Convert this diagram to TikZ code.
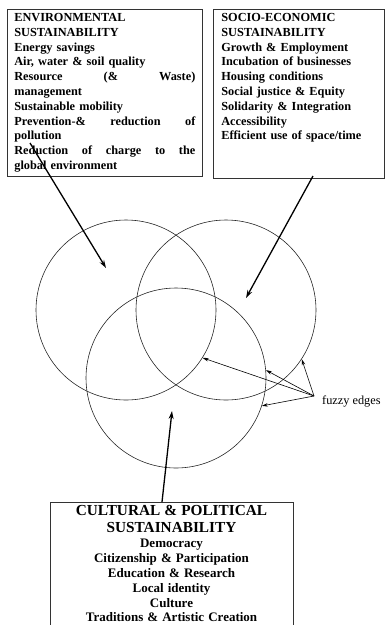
\documentclass[tikz,border=0pt]{standalone}
\usepackage{fontspec}
\setmainfont{Liberation Serif}
\usepackage{tikz}
\usetikzlibrary{arrows.meta}

\newcommand{\jline}[1]{\leavevmode\hbox to 181pt{#1}}
\newcommand{\headfont}{\fontsize{15.3}{17}\selectfont}
\newcommand{\itemfont}{\fontsize{12.3}{14.8}\selectfont}
\newcommand{\bodyfont}{\fontsize{13}{14.9}\selectfont}

\begin{document}
\begin{tikzpicture}[x=1pt,y=-1pt,
  box/.style={draw=black!80,line width=0.7pt,anchor=north west,align=left,inner ysep=4pt,font=\itemfont\bfseries},
  ring/.style={draw=black!85,line width=0.6pt,circle,minimum size=180pt,inner sep=0pt},
  bigarrow/.style={line width=1.3pt,-{Stealth[length=8pt,width=5pt]}},
  fuzzyarrow/.style={line width=0.6pt,-{Stealth[length=6pt,width=3.5pt]}}]
  \useasboundingbox (0,0) rectangle (385,625);
  % the three rings
  \node[ring] (envring) at (126,310) {};
  \node[ring] (socring) at (226,310) {};
  \node[ring] (culring) at (176,378) {};
  % environmental
  \node[box,text width=181pt,inner xsep=7pt] (env) at (7,9) {ENVIRONMENTAL\\
    SUSTAINABILITY\\
    Energy savings\\
    Air, water \& soil quality\\
    \jline{Resource\hfill(\&\hfill Waste)}\\
    management\\
    Sustainable mobility\\
    \jline{Prevention-\&\hfill reduction\hfill of}\\
    pollution\\
    \jline{Reduction\hfill of\hfill charge\hfill to\hfill the}\\
    global environment};
  % socio-economic
  \node[box,text width=155pt,inner xsep=8pt] (soc) at (213,9) {SOCIO-ECONOMIC\\
    SUSTAINABILITY\\
    Growth \& Employment\\
    Incubation of businesses\\
    Housing conditions\\
    Social justice \& Equity\\
    Solidarity \& Integration\\
    Accessibility\\
    Efficient use of space/time\\
    \mbox{}\\
    \strut};
  % cultural & political
  \node[box,anchor=north,align=center,text width=231pt,inner xsep=6pt,inner ysep=3pt] (cul) at (171.5,502) {\headfont
    CULTURAL \& POLITICAL\\
    SUSTAINABILITY\\
    \bodyfont Democracy\\
    Citizenship \& Participation\\
    Education \& Research\\
    Local identity\\
    Culture\\
    Traditions \& Artistic Creation\\[3pt]
    \mbox{}};
  \node[anchor=west,font=\itemfont,inner sep=0pt] (fuzzy) at (322,401) {fuzzy edges};
  % arrows into the rings
  \coordinate (envtail) at (30,143);
  \coordinate (envtip) at (106,268);
  \coordinate (soctail) at (313,176);
  \coordinate (soctip) at (246,298);
  \coordinate (cultip) at (172,411);
  \draw[bigarrow] (envtail) -- (envtip);
  \draw[bigarrow] (soctail) -- (soctip);
  \draw[bigarrow] ([xshift=-9.5pt]cul.north) -- (cultip);
  % fuzzy edges
  \coordinate (fz) at (314,396);
  \draw[fuzzyarrow] (fz) -- (envring.-32);
  \draw[fuzzyarrow] (fz) -- (culring.5);
  \draw[fuzzyarrow] (fz) -- (socring.-33);
  \draw[fuzzyarrow] (fz) -- (culring.-18);
\end{tikzpicture}
\end{document}
